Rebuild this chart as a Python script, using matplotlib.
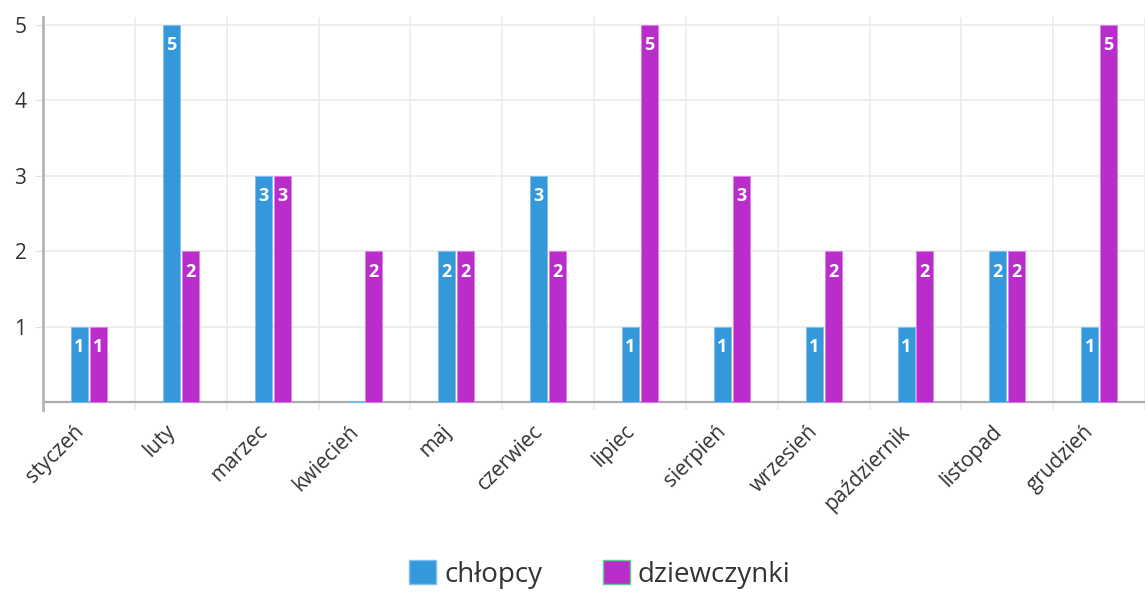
import numpy as np
import matplotlib.pyplot as plt
import matplotlib.transforms as mtransforms
from matplotlib.patches import Patch

months = ['styczeń', 'luty', 'marzec', 'kwiecień', 'maj', 'czerwiec',
          'lipiec', 'sierpień', 'wrzesień', 'październik', 'listopad', 'grudzień']
boys = [1, 5, 3, 0, 2, 3, 1, 1, 1, 1, 2, 1]
girls = [1, 2, 3, 2, 2, 2, 5, 3, 2, 2, 2, 5]

blue = '#3598db'
purple = '#b92ecb'

plt.rcParams['font.family'] = ['Open Sans', 'DejaVu Sans']

fig = plt.figure(figsize=(11.45, 5.93), dpi=100)
ax = fig.add_axes([0.0376, 0.3086, 0.9624, 0.6627])

x = np.arange(len(months))
w = 0.185
gap = 0.01

# zero values still show as a thin line
b_h = [v if v > 0 else 0.02 for v in boys]
ax.bar(x - w / 2 - gap, b_h, w, color=blue, edgecolor='#7fc0ee', linewidth=0.6, zorder=3)
ax.bar(x + w / 2 + gap, girls, w, color=purple, edgecolor='#e07ef0', linewidth=0.6, zorder=3)

for i in range(len(months)):
    if boys[i] > 0:
        ax.text(x[i] - w / 2 - gap, boys[i] - 0.27, str(boys[i]), color='white',
                fontsize=13, fontweight='bold', ha='center', va='center', zorder=4)
    if girls[i] > 0:
        ax.text(x[i] + w / 2 + gap, girls[i] - 0.27, str(girls[i]), color='white',
                fontsize=13, fontweight='bold', ha='center', va='center', zorder=4)

ax.set_xlim(-0.5, len(months) - 0.5)
ax.set_ylim(-0.1, 5.1)

for xb in np.arange(-0.5, len(months), 1.0)[1:]:
    ax.axvline(xb, color='#ebebeb', linewidth=1.2, zorder=1)
for yv in [1, 2, 3, 4, 5]:
    ax.axhline(yv, color='#ebebeb', linewidth=1.2, zorder=1)
ax.axhline(0, color='#aaaaaa', linewidth=1.6, zorder=2)

for s in ['top', 'right', 'bottom']:
    ax.spines[s].set_visible(False)
ax.spines['left'].set_color('#b5b5b5')
ax.spines['left'].set_linewidth(2)

ax.set_yticks([1, 2, 3, 4, 5])
ax.tick_params(axis='y', length=6, color='#e0e0e0', labelsize=15, labelcolor='#333333', pad=6)
ax.set_xticks(x)
ax.set_xticklabels(months, rotation=45, ha='right', rotation_mode='anchor',
                   fontsize=15, color='#333333')
ax.tick_params(axis='x', length=0, pad=8)
shift = mtransforms.ScaledTranslation(-0.16, 0.0, fig.dpi_scale_trans)
for lbl in ax.get_xticklabels():
    lbl.set_transform(lbl.get_transform() + shift)

handles = [Patch(facecolor=blue, edgecolor='#7fc0ee', label='chłopcy'),
           Patch(facecolor=purple, edgecolor='#5fd08a', label='dziewczynki')]
fig.legend(handles=handles, loc='center', bbox_to_anchor=(0.524, 0.031), ncol=2,
           frameon=False, fontsize=20, handlelength=0.95, handleheight=0.95,
           columnspacing=2.2, handletextpad=0.3, labelcolor='#333333')

fig.savefig('out.png', dpi=100)
